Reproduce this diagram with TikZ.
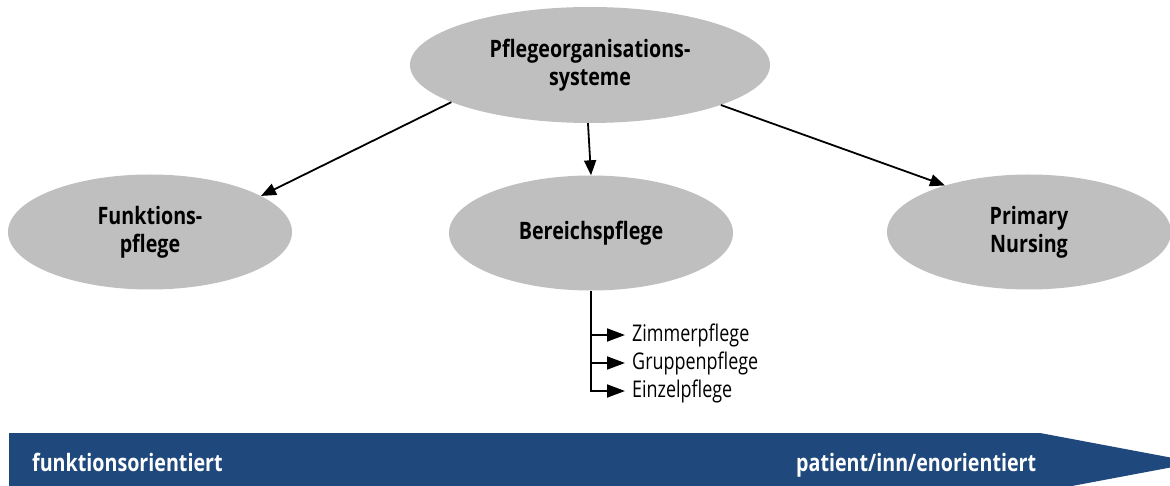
\documentclass[tikz,border=0pt]{standalone}
\usepackage{fontspec}
\setmainfont{Open Sans}
\newfontfamily\cfont[FakeStretch=0.82]{Open Sans}
\newfontfamily\lfont[FakeStretch=0.78]{Open Sans}
\usetikzlibrary{shapes.geometric,arrows.meta}
\definecolor{ellgray}{RGB}{191,191,191}
\definecolor{bannerblue}{RGB}{31,73,125}
\tikzset{
  oval/.style={ellipse, fill=ellgray, draw=none, inner sep=0pt,
    minimum width=284pt, minimum height=115pt, align=center,
    font=\cfont\bfseries\fontsize{24}{28}\selectfont},
  conn/.style={line width=1.8pt, -{Triangle[length=15pt,width=12pt]}},
  sub/.style={anchor=west, inner sep=0pt, font=\lfont\fontsize{23}{26}\selectfont},
  subarrow/.style={line width=1.8pt, -{Triangle[length=18pt,width=13pt]}, shorten >=7pt},
  bantext/.style={anchor=base west, inner sep=0pt, text=white,
    font=\cfont\bfseries\fontsize{24}{26}\selectfont}
}
\begin{document}
\begin{tikzpicture}[x=1pt,y=-1pt]
\useasboundingbox (0,0) rectangle (1170,486);
% banner
\begin{scope}
\clip (0,0) rectangle (1170,486);
\fill[bannerblue] (9,433) -- (1040,433) -- (1197,462.5) -- (1040,492) -- (9,492) -- cycle;
\end{scope}
\node[bantext] (bl) at (32,471) {funktionsorientiert};
\node[bantext] (br) at (796,471) {patient/inn/enorientiert};
% ellipses
\node[oval, minimum width=360pt, minimum height=116pt] (top) at (590,65) {Pflegeorganisations-\\systeme};
\node[oval] (fp) at (150,232) {Funktions-\\pflege};
\node[oval] (bp) at (591,233) {Bereichspflege};
\node[oval] (pn) at (1029,232) {Primary\\Nursing};
% connectors
\draw[conn] (top.195.7) -- (fp.18.9);
\draw[conn] (top.268) -- (bp.90);
\draw[conn] (top.343.5) -- (pn.151.9);
% sub list
\node[sub] (z1) at (632,335) {Zimmerpflege};
\node[sub] (z2) at (632,363) {Gruppenpflege};
\node[sub] (z3) at (632,391) {Einzelpflege};
\draw[subarrow] (bp.south) |- (z3.west);
\draw[subarrow] (bp.south |- z1.west) -- (z1.west);
\draw[subarrow] (bp.south |- z2.west) -- (z2.west);
\end{tikzpicture}
\end{document}
